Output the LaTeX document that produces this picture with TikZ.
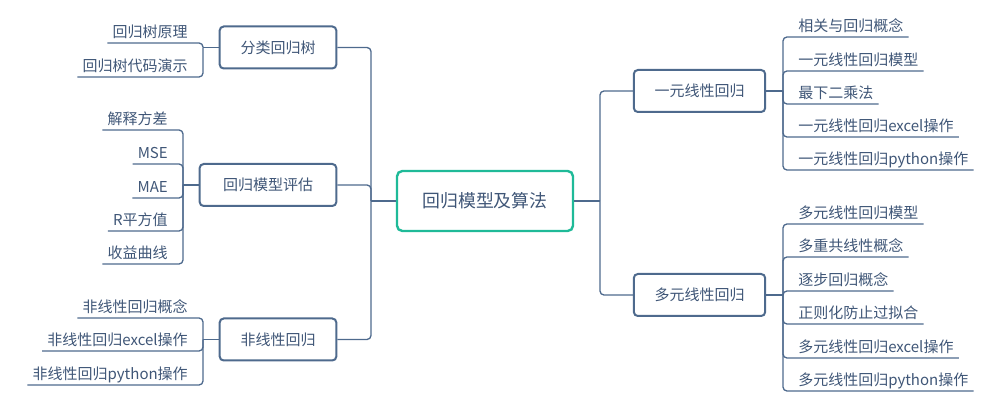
\documentclass[tikz,border=0pt]{standalone}
\usepackage{fontspec}
\setmainfont{Noto Sans CJK SC}
\usepackage{xcolor}
\usepackage{tikz}
\usetikzlibrary{calc}
\definecolor{linecol}{HTML}{4E6A8D}
\definecolor{textcol}{HTML}{3F5677}
\definecolor{rootcol}{HTML}{1FBA98}

\begin{document}
\begin{tikzpicture}[x=0.75pt,y=-0.75pt,
    link/.style={draw=linecol, line width=1pt, rounded corners=3pt},
    box/.style={draw=linecol, line width=1.5pt, rounded corners=3pt, fill=white,
        text=textcol, font=\fontsize{11.25}{13}\selectfont, minimum height=31.5pt},
    rootbox/.style={draw=rootcol, line width=1.8pt, rounded corners=4pt, fill=white,
        text=textcol, font=\fontsize{13.4}{16}\selectfont, minimum width=132pt, minimum height=45pt},
    leaf/.style={inner xsep=3.75pt, inner ysep=2.25pt, text height=8.5pt, text depth=1.5pt,
        text=textcol, font=\fontsize{11.25}{13}\selectfont},
    leafR/.style={leaf, anchor=south west},
    leafL/.style={leaf, anchor=south east}]
    \useasboundingbox (0,0) rectangle (1000,402);

    % Root and main branches
    \node[rootbox] (root) at (485,201) {回归模型及算法};
    \node[box, minimum width=98.5pt] (yiyuan) at (699.5,91) {一元线性回归};
    \node[box, minimum width=98.5pt] (duoyuan) at (699.5,295) {多元线性回归};
    \node[box, minimum width=87.5pt] (fenlei) at (278,47.5) {分类回归树};
    \node[box, minimum width=102.5pt] (pinggu) at (268,185) {回归模型评估};
    \node[box, minimum width=87.5pt] (feixian) at (278,339.5) {非线性回归};

    \coordinate (rJ) at (600,201);
    \coordinate (lJ) at (371,201);
    \draw[link] (root.east) -- (rJ);
    \draw[link] (root.west) -- (lJ);
    \foreach \b in {yiyuan,duoyuan}
        \draw[link] (rJ) |- (\b.west);
    \foreach \b in {fenlei,pinggu,feixian}
        \draw[link] (lJ) |- (\b.east);

    % Right leaves
    \coordinate (yiB) at (783,91);
    \draw[link] (yiyuan.east) -- (yiB);
    \foreach \y/\t [count=\i] in {37/相关与回归概念, 71/一元线性回归模型, 104/最下二乘法,
            137/一元线性回归excel操作, 170/一元线性回归python操作} {
        \node[leafR] (yi\i) at (793,\y) {\t};
        \draw[link] (yiB) |- (yi\i.south east);
    }
    \coordinate (duoB) at (783,295);
    \draw[link] (duoyuan.east) -- (duoB);
    \foreach \y/\t [count=\i] in {224/多元线性回归模型, 257/多重共线性概念, 291/逐步回归概念,
            324/正则化防止过拟合, 358/多元线性回归excel操作, 391/多元线性回归python操作} {
        \node[leafR] (duo\i) at (793,\y) {\t};
        \draw[link] (duoB) |- (duo\i.south east);
    }

    % Left leaves
    \coordinate (fenB) at (203,47.5);
    \draw[link] (fenlei.west) -- (fenB);
    \foreach \y/\t [count=\i] in {43/回归树原理, 77/回归树代码演示} {
        \node[leafL] (fen\i) at (193,\y) {\t};
        \draw[link] (fenB) |- (fen\i.south west);
    }
    \coordinate (pgB) at (183,185);
    \draw[link] (pinggu.west) -- (pgB);
    \foreach \y/\t [count=\i] in {130/解释方差, 164/MSE, 198/MAE, 231/R平方值, 264/收益曲线} {
        \node[leafL] (pg\i) at (173,\y) {\t};
        \draw[link] (pgB) |- (pg\i.south west);
    }
    \coordinate (fxB) at (203,339.5);
    \draw[link] (feixian.west) -- (fxB);
    \foreach \y/\t [count=\i] in {318/非线性回归概念, 351/非线性回归excel操作, 385/非线性回归python操作} {
        \node[leafL] (fx\i) at (193,\y) {\t};
        \draw[link] (fxB) |- (fx\i.south west);
    }
\end{tikzpicture}
\end{document}
